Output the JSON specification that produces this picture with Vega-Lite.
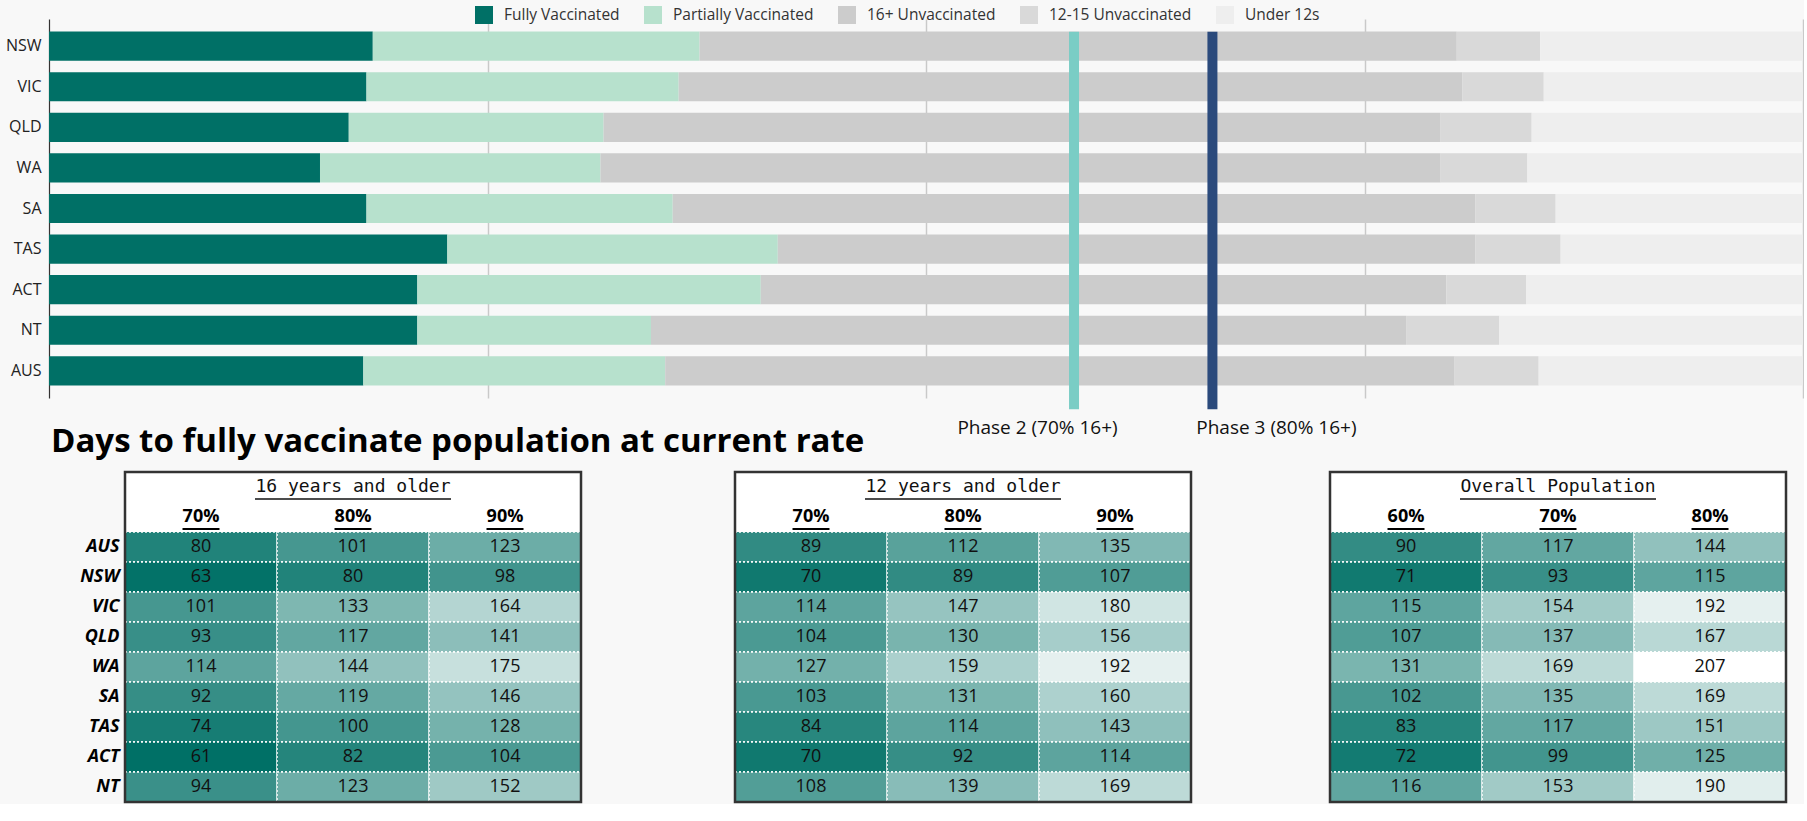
{
  "$schema": "https://vega.github.io/schema/vega-lite/v6.json",
  "background": "#f8f8f8",
  "padding": {"left": 5, "top": 6, "right": 0, "bottom": 0},
  "config": {
    "font": "Open Sans",
    "view": {"stroke": null},
    "axis": {"labelFont": "Open Sans"}
  },
  "datasets": {
    "statusOrder": [
      {"status": "Fully Vaccinated", "rank": 1},
      {"status": "Partially Vaccinated", "rank": 2},
      {"status": "16+ Unvaccinated", "rank": 3},
      {"status": "12-15 Unvaccinated", "rank": 4},
      {"status": "Under 12s", "rank": 5}
    ],
    "bars": [
      {"state": "NSW", "status": "Fully Vaccinated", "share": 0.1846},
      {"state": "NSW", "status": "Partially Vaccinated", "share": 0.1863},
      {"state": "NSW", "status": "16+ Unvaccinated", "share": 0.4317},
      {"state": "NSW", "status": "12-15 Unvaccinated", "share": 0.0475},
      {"state": "NSW", "status": "Under 12s", "share": 0.1499},
      {"state": "VIC", "status": "Fully Vaccinated", "share": 0.1810},
      {"state": "VIC", "status": "Partially Vaccinated", "share": 0.1780},
      {"state": "VIC", "status": "16+ Unvaccinated", "share": 0.4469},
      {"state": "VIC", "status": "12-15 Unvaccinated", "share": 0.0463},
      {"state": "VIC", "status": "Under 12s", "share": 0.1478},
      {"state": "QLD", "status": "Fully Vaccinated", "share": 0.1709},
      {"state": "QLD", "status": "Partially Vaccinated", "share": 0.1453},
      {"state": "QLD", "status": "16+ Unvaccinated", "share": 0.4772},
      {"state": "QLD", "status": "12-15 Unvaccinated", "share": 0.0519},
      {"state": "QLD", "status": "Under 12s", "share": 0.1547},
      {"state": "WA", "status": "Fully Vaccinated", "share": 0.1545},
      {"state": "WA", "status": "Partially Vaccinated", "share": 0.1599},
      {"state": "WA", "status": "16+ Unvaccinated", "share": 0.4790},
      {"state": "WA", "status": "12-15 Unvaccinated", "share": 0.0495},
      {"state": "WA", "status": "Under 12s", "share": 0.1571},
      {"state": "SA", "status": "Fully Vaccinated", "share": 0.1810},
      {"state": "SA", "status": "Partially Vaccinated", "share": 0.1746},
      {"state": "SA", "status": "16+ Unvaccinated", "share": 0.4575},
      {"state": "SA", "status": "12-15 Unvaccinated", "share": 0.0459},
      {"state": "SA", "status": "Under 12s", "share": 0.1410},
      {"state": "TAS", "status": "Fully Vaccinated", "share": 0.2271},
      {"state": "TAS", "status": "Partially Vaccinated", "share": 0.1884},
      {"state": "TAS", "status": "16+ Unvaccinated", "share": 0.3976},
      {"state": "TAS", "status": "12-15 Unvaccinated", "share": 0.0487},
      {"state": "TAS", "status": "Under 12s", "share": 0.1382},
      {"state": "ACT", "status": "Fully Vaccinated", "share": 0.2100},
      {"state": "ACT", "status": "Partially Vaccinated", "share": 0.1958},
      {"state": "ACT", "status": "16+ Unvaccinated", "share": 0.3908},
      {"state": "ACT", "status": "12-15 Unvaccinated", "share": 0.0455},
      {"state": "ACT", "status": "Under 12s", "share": 0.1579},
      {"state": "NT", "status": "Fully Vaccinated", "share": 0.2100},
      {"state": "NT", "status": "Partially Vaccinated", "share": 0.1332},
      {"state": "NT", "status": "16+ Unvaccinated", "share": 0.4305},
      {"state": "NT", "status": "12-15 Unvaccinated", "share": 0.0531},
      {"state": "NT", "status": "Under 12s", "share": 0.1732},
      {"state": "AUS", "status": "Fully Vaccinated", "share": 0.1792},
      {"state": "AUS", "status": "Partially Vaccinated", "share": 0.1721},
      {"state": "AUS", "status": "16+ Unvaccinated", "share": 0.4501},
      {"state": "AUS", "status": "12-15 Unvaccinated", "share": 0.0479},
      {"state": "AUS", "status": "Under 12s", "share": 0.1507}
    ],
    "phases": [
      {"phase": "Phase 2 (70% 16+)", "position": 0.5844, "from": "NSW", "to": "AUS"},
      {"phase": "Phase 3 (80% 16+)", "position": 0.6633, "from": "NSW", "to": "AUS"}
    ],
    "t16": [
      {"state": "AUS", "col": "70%", "days": 80}, {"state": "AUS", "col": "80%", "days": 101}, {"state": "AUS", "col": "90%", "days": 123},
      {"state": "NSW", "col": "70%", "days": 63}, {"state": "NSW", "col": "80%", "days": 80}, {"state": "NSW", "col": "90%", "days": 98},
      {"state": "VIC", "col": "70%", "days": 101}, {"state": "VIC", "col": "80%", "days": 133}, {"state": "VIC", "col": "90%", "days": 164},
      {"state": "QLD", "col": "70%", "days": 93}, {"state": "QLD", "col": "80%", "days": 117}, {"state": "QLD", "col": "90%", "days": 141},
      {"state": "WA", "col": "70%", "days": 114}, {"state": "WA", "col": "80%", "days": 144}, {"state": "WA", "col": "90%", "days": 175},
      {"state": "SA", "col": "70%", "days": 92}, {"state": "SA", "col": "80%", "days": 119}, {"state": "SA", "col": "90%", "days": 146},
      {"state": "TAS", "col": "70%", "days": 74}, {"state": "TAS", "col": "80%", "days": 100}, {"state": "TAS", "col": "90%", "days": 128},
      {"state": "ACT", "col": "70%", "days": 61}, {"state": "ACT", "col": "80%", "days": 82}, {"state": "ACT", "col": "90%", "days": 104},
      {"state": "NT", "col": "70%", "days": 94}, {"state": "NT", "col": "80%", "days": 123}, {"state": "NT", "col": "90%", "days": 152}
    ],
    "t12": [
      {"state": "AUS", "col": "70%", "days": 89}, {"state": "AUS", "col": "80%", "days": 112}, {"state": "AUS", "col": "90%", "days": 135},
      {"state": "NSW", "col": "70%", "days": 70}, {"state": "NSW", "col": "80%", "days": 89}, {"state": "NSW", "col": "90%", "days": 107},
      {"state": "VIC", "col": "70%", "days": 114}, {"state": "VIC", "col": "80%", "days": 147}, {"state": "VIC", "col": "90%", "days": 180},
      {"state": "QLD", "col": "70%", "days": 104}, {"state": "QLD", "col": "80%", "days": 130}, {"state": "QLD", "col": "90%", "days": 156},
      {"state": "WA", "col": "70%", "days": 127}, {"state": "WA", "col": "80%", "days": 159}, {"state": "WA", "col": "90%", "days": 192},
      {"state": "SA", "col": "70%", "days": 103}, {"state": "SA", "col": "80%", "days": 131}, {"state": "SA", "col": "90%", "days": 160},
      {"state": "TAS", "col": "70%", "days": 84}, {"state": "TAS", "col": "80%", "days": 114}, {"state": "TAS", "col": "90%", "days": 143},
      {"state": "ACT", "col": "70%", "days": 70}, {"state": "ACT", "col": "80%", "days": 92}, {"state": "ACT", "col": "90%", "days": 114},
      {"state": "NT", "col": "70%", "days": 108}, {"state": "NT", "col": "80%", "days": 139}, {"state": "NT", "col": "90%", "days": 169}
    ],
    "tall": [
      {"state": "AUS", "col": "60%", "days": 90}, {"state": "AUS", "col": "70%", "days": 117}, {"state": "AUS", "col": "80%", "days": 144},
      {"state": "NSW", "col": "60%", "days": 71}, {"state": "NSW", "col": "70%", "days": 93}, {"state": "NSW", "col": "80%", "days": 115},
      {"state": "VIC", "col": "60%", "days": 115}, {"state": "VIC", "col": "70%", "days": 154}, {"state": "VIC", "col": "80%", "days": 192},
      {"state": "QLD", "col": "60%", "days": 107}, {"state": "QLD", "col": "70%", "days": 137}, {"state": "QLD", "col": "80%", "days": 167},
      {"state": "WA", "col": "60%", "days": 131}, {"state": "WA", "col": "70%", "days": 169}, {"state": "WA", "col": "80%", "days": 207},
      {"state": "SA", "col": "60%", "days": 102}, {"state": "SA", "col": "70%", "days": 135}, {"state": "SA", "col": "80%", "days": 169},
      {"state": "TAS", "col": "60%", "days": 83}, {"state": "TAS", "col": "70%", "days": 117}, {"state": "TAS", "col": "80%", "days": 151},
      {"state": "ACT", "col": "60%", "days": 72}, {"state": "ACT", "col": "70%", "days": 99}, {"state": "ACT", "col": "80%", "days": 125},
      {"state": "NT", "col": "60%", "days": 116}, {"state": "NT", "col": "70%", "days": 153}, {"state": "NT", "col": "80%", "days": 190}
    ]
  },
  "spacing": -12,
  "vconcat": [
    {
      "width": 1754,
      "height": 379,
      "view": {"stroke": null},
      "resolve": {"axis": {"x": "independent"}},
      "layer": [
        {
          "data": {"name": "bars"},
          "transform": [{"lookup": "status", "from": {"data": {"name": "statusOrder"}, "key": "status", "fields": ["rank"]}}],
          "mark": {"type": "bar"},
          "encoding": {
            "y": {
              "field": "state", "type": "nominal",
              "scale": {"domain": ["NSW", "VIC", "QLD", "WA", "SA", "TAS", "ACT", "NT", "AUS"], "paddingInner": 0.28, "paddingOuter": 0.31},
              "axis": {"title": null, "ticks": false, "labelPadding": 8, "labelFontSize": 16, "labelColor": "#222", "domainColor": "#333", "domainWidth": 1.2, "grid": false}
            },
            "x": {
              "field": "share", "type": "quantitative", "stack": "zero",
              "scale": {"domain": [0, 1], "nice": false},
              "axis": {"orient": "bottom", "title": null, "labels": false, "ticks": false, "domain": false, "grid": true, "values": [0.25, 0.5, 0.75, 1], "gridColor": "#c9c9c9", "gridWidth": 1.5}
            },
            "order": {"field": "rank", "type": "quantitative"},
            "color": {
              "field": "status", "type": "nominal",
              "scale": {
                "domain": ["Fully Vaccinated", "Partially Vaccinated", "16+ Unvaccinated", "12-15 Unvaccinated", "Under 12s"],
                "range": ["#007066", "#b7e1cd", "#cccccc", "#d9d9d9", "#eeeeee"]
              },
              "legend": {
                "orient": "none", "legendX": 426, "legendY": -13, "direction": "horizontal", "columns": 5,
                "title": null, "symbolType": "square", "symbolSize": 324, "symbolStrokeWidth": 0, "symbolOpacity": 1,
                "labelFontSize": 15.5, "labelColor": "#333", "labelOffset": 11, "columnPadding": 24
              }
            }
          }
        },
        {
          "data": {"name": "phases"},
          "mark": {"type": "rule", "yOffset": -14.5, "y2Offset": 38.5},
          "encoding": {
            "x": {
              "field": "position", "type": "quantitative",
              "axis": {
                "orient": "bottom", "title": null, "values": [0.5633, 0.6995],
                "labelExpr": "datum.value < 0.63 ? 'Phase 2 (70% 16+)' : 'Phase 3 (80% 16+)'",
                "grid": false, "ticks": false, "tickSize": 0, "domain": false, "labelFlush": false, "labelOverlap": false,
                "labelFontSize": 19, "labelColor": "#111", "labelPadding": 20
              }
            },
            "y": {"field": "from", "type": "nominal"},
            "y2": {"field": "to"},
            "stroke": {
              "field": "phase", "type": "nominal",
              "scale": {"domain": ["Phase 2 (70% 16+)", "Phase 3 (80% 16+)"], "range": ["#7acdc5", "#2b4a7c"]},
              "legend": null
            },
            "strokeWidth": {"value": 10}
          }
        }
      ]
    },
    {
      "title": {"text": "Days to fully vaccinate population at current rate", "anchor": "start", "fontSize": 33, "fontWeight": "bold", "font": "Open Sans", "color": "#000", "dx": 2, "offset": 12},
      "spacing": 15,
      "hconcat": [
        {
          "width": 1, "height": 330,
          "data": {"values": [{"blank": ""}]},
          "mark": {"type": "text", "text": ""}
        },
        {
          "spacing": 150,
          "hconcat": [
            {
              "width": 456, "height": 330,
              "view": {"fill": "white", "stroke": null},
              "data": {"name": "t16"},
              "layer": [
                {
                  "mark": {"type": "rect", "stroke": "white", "strokeWidth": 1.5, "strokeDash": [2, 2]},
                  "encoding": {
                    "x": {"field": "col", "type": "nominal", "scale": {"domain": ["70%", "80%", "90%"]}, "axis": null},
                    "y": {"field": "state", "type": "nominal", "scale": {"domain": ["h1", "h2", "AUS", "NSW", "VIC", "QLD", "WA", "SA", "TAS", "ACT", "NT"]},
                      "axis": {"values": ["AUS", "NSW", "VIC", "QLD", "WA", "SA", "TAS", "ACT", "NT"], "title": null, "ticks": false, "domain": false, "grid": false, "labelFontSize": 18, "labelFontWeight": "bold", "labelFontStyle": "italic", "labelColor": "#000", "labelPadding": 6, "minExtent": 60}},
                    "fill": {"field": "days", "type": "quantitative", "scale": {"domain": [61, 207], "range": ["#007066", "#ffffff"], "interpolate": "rgb"}, "legend": null}
                  }
                },
                {
                  "mark": {"type": "text", "fontSize": 18, "color": "#111"},
                  "encoding": {
                    "x": {"field": "col", "type": "nominal", "axis": null},
                    "y": {"field": "state", "type": "nominal"},
                    "text": {"field": "days", "type": "quantitative"}
                  }
                },
                {
                  "transform": [{"aggregate": [{"op": "count", "as": "n"}], "groupby": ["col"]}],
                  "mark": {"type": "text", "fontSize": 18, "fontWeight": "bold", "color": "#000"},
                  "encoding": {
                    "x": {"field": "col", "type": "nominal", "axis": null},
                    "y": {"datum": "h2", "type": "nominal"},
                    "text": {"field": "col", "type": "nominal"}
                  }
                },
                {
                  "transform": [{"aggregate": [{"op": "count", "as": "n"}], "groupby": ["col"]}],
                  "mark": {"type": "rule", "color": "#000", "strokeWidth": 2, "xOffset": -18.5, "x2Offset": 18.5, "yOffset": 12},
                  "encoding": {
                    "x": {"field": "col", "type": "nominal", "axis": null},
                    "x2": {"field": "col"},
                    "y": {"datum": "h2", "type": "nominal"}
                  }
                },
                {
                  "transform": [{"aggregate": [{"op": "count", "as": "n"}]}],
                  "mark": {"type": "text", "text": "16 years and older", "font": "DejaVu Sans Mono", "fontSize": 18, "color": "#111"},
                  "encoding": {
                    "y": {"datum": "h1", "type": "nominal"}
                  }
                },
                {
                  "transform": [{"aggregate": [{"op": "count", "as": "n"}]}],
                  "mark": {"type": "rule", "color": "#111", "strokeWidth": 1.5, "xOffset": -98, "x2Offset": 98, "yOffset": 12},
                  "encoding": {
                    "x": {"datum": "80%", "type": "nominal"},
                    "x2": {"datum": "80%"},
                    "y": {"datum": "h1", "type": "nominal"}
                  }
                },
                {
                  "transform": [{"aggregate": [{"op": "count", "as": "n"}]}],
                  "mark": {"type": "rect", "fill": null, "fillOpacity": 0, "stroke": "#333", "strokeWidth": 2.5},
                  "encoding": {}
                }
              ]
            },
            {
              "spacing": 135,
              "hconcat": [
                {
                  "width": 456, "height": 330,
                  "view": {"fill": "white", "stroke": null},
                  "data": {"name": "t12"},
                  "layer": [
                    {
                      "mark": {"type": "rect", "stroke": "white", "strokeWidth": 1.5, "strokeDash": [2, 2]},
                      "encoding": {
                        "x": {"field": "col", "type": "nominal", "scale": {"domain": ["70%", "80%", "90%"]}, "axis": null},
                        "y": {"field": "state", "type": "nominal", "scale": {"domain": ["h1", "h2", "AUS", "NSW", "VIC", "QLD", "WA", "SA", "TAS", "ACT", "NT"]}, "axis": null},
                        "fill": {"field": "days", "type": "quantitative", "scale": {"domain": [61, 207], "range": ["#007066", "#ffffff"], "interpolate": "rgb"}, "legend": null}
                      }
                    },
                    {
                      "mark": {"type": "text", "fontSize": 18, "color": "#111"},
                      "encoding": {
                        "x": {"field": "col", "type": "nominal", "axis": null},
                        "y": {"field": "state", "type": "nominal", "axis": null},
                        "text": {"field": "days", "type": "quantitative"}
                      }
                    },
                    {
                      "transform": [{"aggregate": [{"op": "count", "as": "n"}], "groupby": ["col"]}],
                      "mark": {"type": "text", "fontSize": 18, "fontWeight": "bold", "color": "#000"},
                      "encoding": {
                        "x": {"field": "col", "type": "nominal", "axis": null},
                        "y": {"datum": "h2", "type": "nominal", "axis": null},
                        "text": {"field": "col", "type": "nominal"}
                      }
                    },
                    {
                      "transform": [{"aggregate": [{"op": "count", "as": "n"}], "groupby": ["col"]}],
                      "mark": {"type": "rule", "color": "#000", "strokeWidth": 2, "xOffset": -18.5, "x2Offset": 18.5, "yOffset": 12},
                      "encoding": {
                        "x": {"field": "col", "type": "nominal", "axis": null},
                        "x2": {"field": "col"},
                        "y": {"datum": "h2", "type": "nominal", "axis": null}
                      }
                    },
                    {
                      "transform": [{"aggregate": [{"op": "count", "as": "n"}]}],
                      "mark": {"type": "text", "text": "12 years and older", "font": "DejaVu Sans Mono", "fontSize": 18, "color": "#111"},
                      "encoding": {
                        "y": {"datum": "h1", "type": "nominal", "axis": null}
                      }
                    },
                    {
                      "transform": [{"aggregate": [{"op": "count", "as": "n"}]}],
                      "mark": {"type": "rule", "color": "#111", "strokeWidth": 1.5, "xOffset": -98, "x2Offset": 98, "yOffset": 12},
                      "encoding": {
                        "x": {"datum": "80%", "type": "nominal", "axis": null},
                        "x2": {"datum": "80%"},
                        "y": {"datum": "h1", "type": "nominal", "axis": null}
                      }
                    },
                    {
                      "transform": [{"aggregate": [{"op": "count", "as": "n"}]}],
                      "mark": {"type": "rect", "fill": null, "fillOpacity": 0, "stroke": "#333", "strokeWidth": 2.5},
                      "encoding": {}
                    }
                  ]
                },
                {
                  "width": 456, "height": 330,
                  "view": {"fill": "white", "stroke": null},
                  "data": {"name": "tall"},
                  "layer": [
                    {
                      "mark": {"type": "rect", "stroke": "white", "strokeWidth": 1.5, "strokeDash": [2, 2]},
                      "encoding": {
                        "x": {"field": "col", "type": "nominal", "scale": {"domain": ["60%", "70%", "80%"]}, "axis": null},
                        "y": {"field": "state", "type": "nominal", "scale": {"domain": ["h1", "h2", "AUS", "NSW", "VIC", "QLD", "WA", "SA", "TAS", "ACT", "NT"]}, "axis": null},
                        "fill": {"field": "days", "type": "quantitative", "scale": {"domain": [61, 207], "range": ["#007066", "#ffffff"], "interpolate": "rgb"}, "legend": null}
                      }
                    },
                    {
                      "mark": {"type": "text", "fontSize": 18, "color": "#111"},
                      "encoding": {
                        "x": {"field": "col", "type": "nominal", "axis": null},
                        "y": {"field": "state", "type": "nominal", "axis": null},
                        "text": {"field": "days", "type": "quantitative"}
                      }
                    },
                    {
                      "transform": [{"aggregate": [{"op": "count", "as": "n"}], "groupby": ["col"]}],
                      "mark": {"type": "text", "fontSize": 18, "fontWeight": "bold", "color": "#000"},
                      "encoding": {
                        "x": {"field": "col", "type": "nominal", "axis": null},
                        "y": {"datum": "h2", "type": "nominal", "axis": null},
                        "text": {"field": "col", "type": "nominal"}
                      }
                    },
                    {
                      "transform": [{"aggregate": [{"op": "count", "as": "n"}], "groupby": ["col"]}],
                      "mark": {"type": "rule", "color": "#000", "strokeWidth": 2, "xOffset": -18.5, "x2Offset": 18.5, "yOffset": 12},
                      "encoding": {
                        "x": {"field": "col", "type": "nominal", "axis": null},
                        "x2": {"field": "col"},
                        "y": {"datum": "h2", "type": "nominal", "axis": null}
                      }
                    },
                    {
                      "transform": [{"aggregate": [{"op": "count", "as": "n"}]}],
                      "mark": {"type": "text", "text": "Overall Population", "font": "DejaVu Sans Mono", "fontSize": 18, "color": "#111"},
                      "encoding": {
                        "y": {"datum": "h1", "type": "nominal", "axis": null}
                      }
                    },
                    {
                      "transform": [{"aggregate": [{"op": "count", "as": "n"}]}],
                      "mark": {"type": "rule", "color": "#111", "strokeWidth": 1.5, "xOffset": -98, "x2Offset": 98, "yOffset": 12},
                      "encoding": {
                        "x": {"datum": "70%", "type": "nominal", "axis": null},
                        "x2": {"datum": "70%"},
                        "y": {"datum": "h1", "type": "nominal", "axis": null}
                      }
                    },
                    {
                      "transform": [{"aggregate": [{"op": "count", "as": "n"}]}],
                      "mark": {"type": "rect", "fill": null, "fillOpacity": 0, "stroke": "#333", "strokeWidth": 2.5},
                      "encoding": {}
                    }
                  ]
                }
              ]
            }
          ]
        }
      ]
    }
  ]
}
